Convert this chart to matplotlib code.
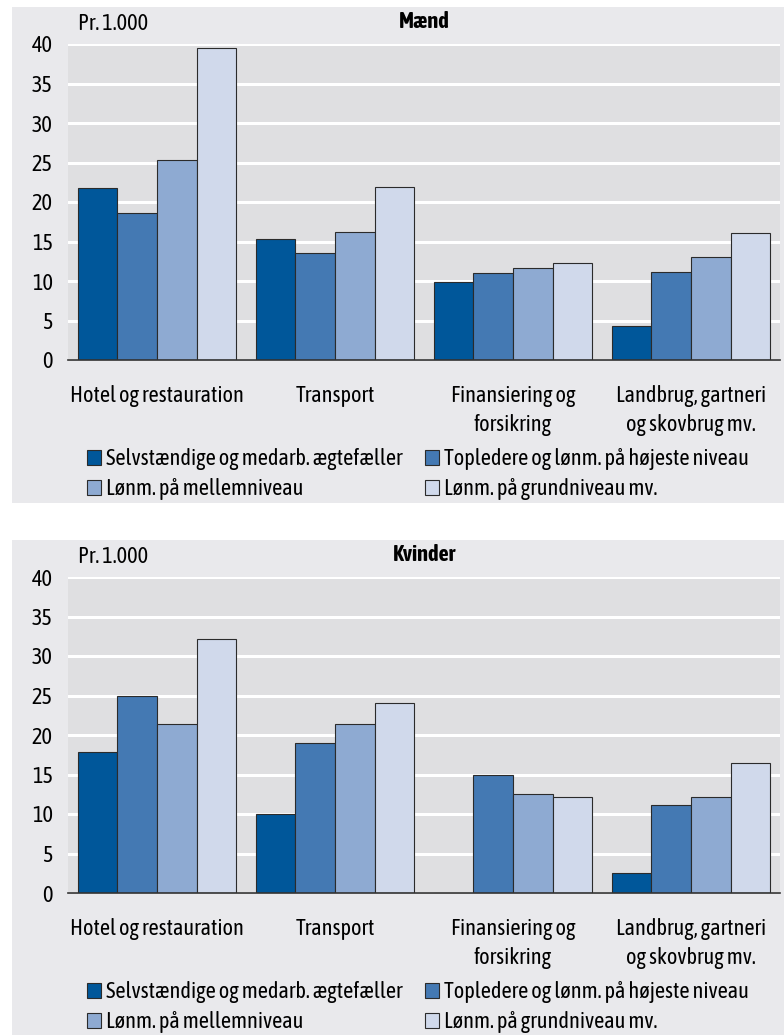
#!/usr/bin/env python3
"""Mænd / Kvinder, pr. 1.000, fordelt på branche og socioøkonomisk gruppe."""

import matplotlib
matplotlib.use("Agg")
import matplotlib.pyplot as plt
from matplotlib import font_manager
from matplotlib.patches import Rectangle
import numpy as np

# prefer a narrow face (with a bold cut) if one is installed
fonts = font_manager.fontManager.ttflist
narrow = sorted({f.name for f in fonts if "Narrow" in f.name or "Condensed" in f.name})
with_bold = [n for n in narrow
             if any(f.name == n and f.weight in ("bold", 700) for f in fonts)]
pick = (with_bold or narrow or ["Liberation Sans"])[0]
plt.rcParams["font.family"] = [pick, "DejaVu Sans"]

categories = ["Hotel og restauration", "Transport",
              "Finansiering og\nforsikring", "Landbrug, gartneri\nog skovbrug mv."]
series = ["Selvstændige og medarb. ægtefæller",
          "Topledere og lønm. på højeste niveau",
          "Lønm. på mellemniveau",
          "Lønm. på grundniveau mv."]
colors = ["#00579a", "#4479b3", "#8eaad2", "#d0d9eb"]

maend = [
    [21.8, 15.3, 9.9, 4.3],
    [18.6, 13.6, 11.0, 11.1],
    [25.3, 16.2, 11.7, 13.0],
    [39.5, 21.9, 12.3, 16.1],
]
kvinder = [
    [17.8, 10.0, 0.0, 2.5],
    [24.9, 19.0, 15.0, 11.1],
    [21.4, 21.4, 12.5, 12.1],
    [32.2, 24.1, 12.2, 16.5],
]
yticks = [0, 5, 10, 15, 20, 25, 30, 35, 40]

W, H = 784, 1035
FS = 16
fig = plt.figure(figsize=(W / 100, H / 100), dpi=100)


def px_rect(x0, y0, x1, y1):
    return [x0 / W, 1 - y1 / H, (x1 - x0) / W, (y1 - y0) / H]


def panel(values, title, y0):
    # panel background
    fig.patches.append(Rectangle((12 / W, 1 - (y0 + 496) / H), (W - 12) / W,
                                 496 / H, transform=fig.transFigure,
                                 facecolor="#e9e9ec", edgecolor="none", zorder=-5))
    ax = fig.add_axes(px_rect(68, y0 + 37, 780, y0 + 353))
    ax.set_facecolor("#dfdfe1")
    x = np.arange(len(categories))
    bw = 0.222
    for i, (vals, c) in enumerate(zip(values, colors)):
        ax.bar(x + (i - 1.5) * bw, vals, bw, color=c, edgecolor="#2b2b2b",
               linewidth=0.8, zorder=3)
    ax.set_xlim(-0.5, len(categories) - 0.5)
    ax.set_ylim(0, 40)
    ax.set_yticks(yticks)
    ax.yaxis.grid(True, color="white", linewidth=2.2, zorder=1)
    ax.set_axisbelow(True)
    for s in ["top", "right", "left"]:
        ax.spines[s].set_visible(False)
    ax.spines["bottom"].set_color("#333333")
    ax.spines["bottom"].set_linewidth(1.2)
    ax.spines["bottom"].set_zorder(4)
    ax.tick_params(axis="y", length=0, pad=11, labelsize=FS)
    ax.tick_params(axis="x", length=0, pad=18, labelsize=FS)
    ax.set_xticks(x)
    ax.set_xticklabels(categories, linespacing=1.4, va="top")
    ax.text(0.014, 1.062, "Pr. 1.000", transform=ax.transAxes, fontsize=FS,
            ha="left", va="center")
    ax.text(0.5, 1.07, title, transform=ax.transAxes, fontsize=FS,
            fontweight="bold", ha="center", va="center")

    handles = [Rectangle((0, 0), 1, 1, facecolor=c, edgecolor="#2b2b2b",
                         linewidth=0.8) for c in colors]
    order = [0, 2, 1, 3]
    fig.legend([handles[i] for i in order], [series[i] for i in order],
               ncol=2, loc="upper left",
               bbox_to_anchor=(87 / W, 1 - (y0 + 441) / H),
               frameon=False, fontsize=FS, handlelength=0.65,
               handleheight=0.65, handletextpad=0.2, columnspacing=1.0,
               labelspacing=0.38, borderpad=0, borderaxespad=0)
    return ax


panel(maend, "Mænd", 7)
panel(kvinder, "Kvinder", 540)

fig.savefig("out.png", dpi=100)
